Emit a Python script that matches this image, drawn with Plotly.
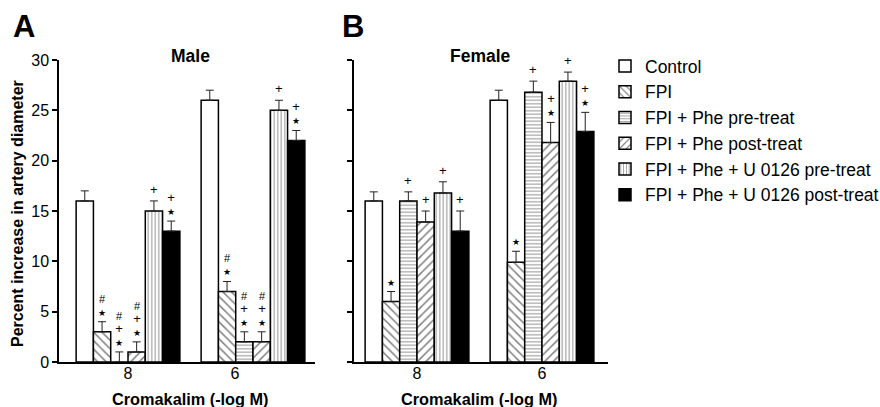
import plotly.graph_objects as go

groups = [0, 1]
group_labels = ["8", "6"]
male_tick_pos = [0, 0.856]
series = ["Control", "FPI", "FPI + Phe pre-treat", "FPI + Phe post-treat",
          "FPI + Phe + U 0126 pre-treat", "FPI + Phe + U 0126 post-treat"]

male_vals = [[16, 26], [3, 7], [0, 2], [1, 2], [15, 25], [13, 22]]
male_err = [[1, 1], [1, 1], [1, 1], [1, 1], [1, 1], [1, 1]]
female_vals = [[16, 26], [6, 9.9], [16, 26.8], [13.9, 21.8], [16.8, 27.9], [13, 22.9]]
female_err = [[0.9, 1], [1, 1.1], [0.9, 1.1], [1.1, 2], [1.1, 0.9], [2, 1.9]]

# significance marks, listed top to bottom
male_marks = [["", ""], ["#*", "#*"], ["#+*", "#+*"], ["#+*", "#+*"], ["+", "+"], ["+*", "+*"]]
female_marks = [["", ""], ["*", "*"], ["+", "+"], ["+", "+*"], ["+", "+"], ["+", "+*"]]

FONT = "Liberation Sans, Arial, sans-serif"
patterns = [
    dict(shape="", fill="white"),
    dict(shape="\\", fill="white"),
    dict(shape="-", fill="white"),
    dict(shape="/", fill="white"),
    dict(shape="|", fill="white"),
    dict(shape="", fill="black"),
]
pat_size = [6, 6, 3.5, 6, 3.5, 6]
BARGAP = 0.17

fig = go.Figure()
for panel, (vals, errs, xa, ya) in enumerate([(male_vals, male_err, "x", "y"),
                                              (female_vals, female_err, "x2", "y2")]):
    for i, name in enumerate(series):
        p = patterns[i]
        pattern = dict(shape=p["shape"], fgcolor="black", bgcolor=p["fill"],
                       size=pat_size[i], solidity=0.25, fillmode="overlay") if p["shape"] else None
        marker = dict(color=p["fill"], line=dict(color="black", width=1.5))
        if pattern:
            marker["pattern"] = pattern
        fig.add_trace(go.Bar(
            x=groups, y=vals[i], name=name, xaxis=xa, yaxis=ya,
            legendgroup=name, showlegend=(panel == 0),
            marker=marker,
            error_y=dict(type="data", symmetric=False, array=errs[i],
                         arrayminus=[0, 0], color="#222", thickness=1, width=4),
        ))

L, R, T, B = 59, 608, 60, 362
W, H = R - L, B - T


def px(xp):
    return (xp - L) / W


def py(yp):
    return (B - yp) / H


SYM = {"*": "<span style='font-size:9px'>★</span>",
       "+": "<span style='font-size:13px'>+</span>",
       "#": "<span style='font-size:11px'>#</span>"}

ann = []
bw = (1 - BARGAP) / 6
for marks, vals, errs, xr, yr in [(male_marks, male_vals, male_err, "x", "y"),
                                  (female_marks, female_vals, female_err, "x2", "y2")]:
    for i in range(6):
        for g in range(2):
            m = marks[i][g]
            if not m:
                continue
            xc = groups[g] - (1 - BARGAP) / 2 + (i + 0.5) * bw
            top = vals[i][g] + errs[i][g]
            ann.append(dict(x=xc, y=top, xref=xr, yref=yr,
                            text="<br>".join(SYM[s] for s in m), showarrow=False,
                            xanchor="center", yanchor="bottom", yshift=3, borderpad=0,
                            font=dict(family=FONT, size=10, color="black")))


def label(x, y, text, size, angle=0):
    return dict(x=px(x), y=py(y), xref="paper", yref="paper", text=text, showarrow=False,
                xanchor="center", yanchor="middle", textangle=angle,
                font=dict(family=FONT, size=size, color="black"))


ann += [
    label(24, 26, "<b>A</b>", 31),
    label(353, 26, "<b>B</b>", 31),
    label(190, 56, "<b>Male</b>", 17.5),
    label(480, 56, "<b>Female</b>", 17.5),
    label(190, 399, "<b>Cromakalim (-log M)</b>", 16.3),
    label(479, 399, "<b>Cromakalim (-log M)</b>", 16.3),
    label(18, 214, "<b>Percent increase in artery diameter</b>", 16, -90),
]

axis_common = dict(showline=True, linecolor="black", linewidth=1.5, showgrid=False, zeroline=False)
fig.update_layout(
    width=880, height=407,
    margin=dict(l=L, r=880 - R, t=T, b=407 - B, autoexpand=False),
    paper_bgcolor="white", plot_bgcolor="white",
    barmode="group", bargap=BARGAP, bargroupgap=0,
    font=dict(family=FONT, color="black"),
    xaxis=dict(domain=[0, 256 / W], range=[-0.552, 1.496], tickvals=male_tick_pos,
               ticktext=group_labels, ticks="", tickfont=dict(size=16), ticklabelstandoff=-4,
               anchor="y", **axis_common),
    xaxis2=dict(domain=[295 / W, 1], range=[-0.504, 1.528], tickvals=groups, ticktext=group_labels,
                ticks="", tickfont=dict(size=16), ticklabelstandoff=-4, anchor="y2", **axis_common),
    yaxis=dict(range=[0, 30], tickvals=[0, 5, 10, 15, 20, 25, 30], ticks="outside", ticklen=5,
               tickwidth=1.5, tickcolor="black", tickfont=dict(size=16), anchor="x", **axis_common),
    yaxis2=dict(range=[0, 30], tickvals=[0, 5, 10, 15, 20, 25, 30], ticks="outside", ticklen=5,
                tickwidth=1.5, tickcolor="black", showticklabels=False, anchor="x2", **axis_common),
    legend=dict(x=px(605), y=py(48), xanchor="left", yanchor="top",
                font=dict(family=FONT, size=17.5, color="black"),
                bgcolor="rgba(0,0,0,0)", tracegroupgap=0, traceorder="normal"),
    annotations=ann,
)

fig.write_html("out.html")
